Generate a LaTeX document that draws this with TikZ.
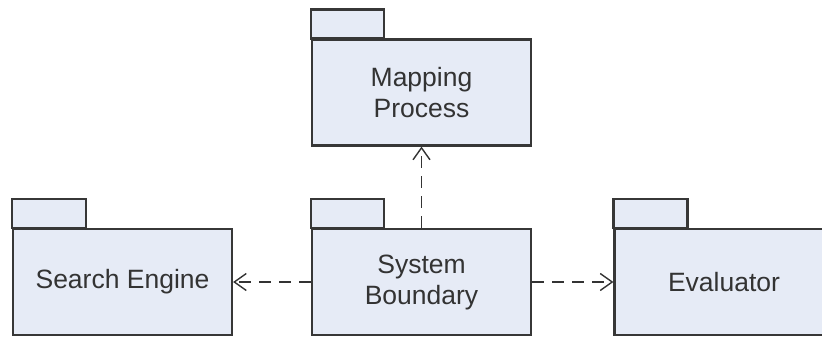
\documentclass[tikz,border=0pt]{standalone}
\usepackage{fontspec}
\setmainfont{Liberation Sans}
\usetikzlibrary{arrows.meta}
\definecolor{pkgfill}{RGB}{230,235,246}
\definecolor{pkgline}{RGB}{55,55,55}

\begin{document}
\begin{tikzpicture}[x=1pt, y=-1pt,
  pkg/.style={draw=pkgline, line width=2.2pt, fill=pkgfill, minimum width=219pt,
    minimum height=106pt, inner sep=0pt, align=center, text=black!80,
    font=\fontsize{26.5}{31}\selectfont},
  pkgtab/.style={draw=pkgline, line width=2.2pt, fill=pkgfill},
  dep/.style={draw=black!80, line width=1.6pt, dash pattern=on 12pt off 8pt,
    -{Straight Barb[length=12pt,width=17pt,line width=1.4pt]}}]
\useasboundingbox (0,0) rectangle (822,338);
\clip (0,0) rectangle (822,338);

\node[pkg] (map)    at (421.5, 92.5) {Mapping\\Process};
\draw[pkgtab] (map.north west) rectangle ++(73,-29);

\node[pkg] (search) at (122.5,282) {Search Engine};
\draw[pkgtab] (search.north west) rectangle ++(74,-29);

\node[pkg] (sys)    at (421.5,282) {System\\Boundary};
\draw[pkgtab] (sys.north west) rectangle ++(73,-29);

\node[pkg] (eval)   at (724,282) {Evaluator};
\draw[pkgtab] (eval.north west) rectangle ++(74,-29);

\draw[dep] (sys.north) -- (map.south);
\draw[dep] (sys.west) -- (search.east);
\draw[dep] (sys.east) -- (eval.west);

\end{tikzpicture}
\end{document}
